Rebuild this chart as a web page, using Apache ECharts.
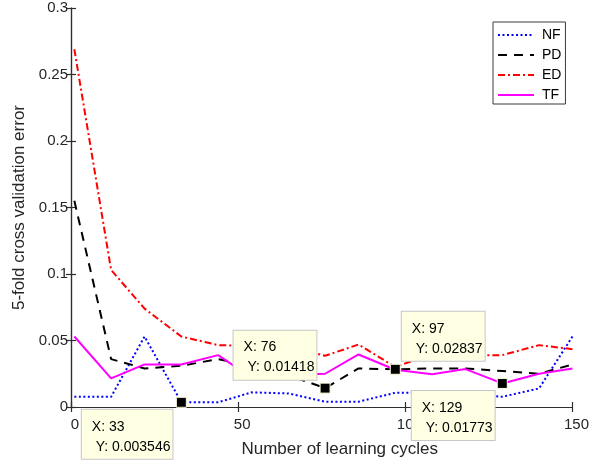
<!DOCTYPE html>
<html>
<head>
<meta charset="utf-8">
<script src="https://cdn.jsdelivr.net/npm/echarts@6/dist/echarts.min.js"></script>
<style>
  html, body { margin: 0; padding: 0; background: #fff; }
  #chart { width: 592px; height: 465px; }
</style>
</head>
<body>
<div id="chart"></div>
<script>
// Learning cycles at which the cross validation error was evaluated
const cycles = [1, 12, 22, 33, 44, 54, 65, 76, 86, 97, 108, 118, 129, 140, 150];

// 5-fold cross validation error per method
const errNF = [0.0077, 0.0077, 0.053, 0.003546, 0.0035, 0.011, 0.0102, 0.0040, 0.0040, 0.0107, 0.011, 0.010, 0.0077, 0.014, 0.053];
const errPD = [0.155, 0.036, 0.029, 0.031, 0.036, 0.031, 0.024, 0.01418, 0.029, 0.02837, 0.029, 0.029, 0.027, 0.025, 0.032];
const errED = [0.269, 0.103, 0.074, 0.053, 0.0465, 0.046, 0.046, 0.0385, 0.047, 0.030, 0.040, 0.039, 0.039, 0.0465, 0.0435];
const errTF = [0.053, 0.0215, 0.032, 0.032, 0.039, 0.022, 0.024, 0.025, 0.0395, 0.028, 0.0247, 0.0285, 0.01773, 0.025, 0.029];

const seriesNames = ['NF', 'PD', 'ED', 'TF'];

// Annotated points: which series and which sample index
const tipSeries = ['NF', 'PD', 'PD', 'TF'];
const tipIndex = [3, 7, 9, 12];

// Axis ticks
const xTicks = [0, 50, 100, 150];
const yTicks = [0, 0.05, 0.1, 0.15, 0.2, 0.25, 0.3];

const FONT = 'Liberation Sans, Arial, Helvetica, sans-serif';
const values = { NF: errNF, PD: errPD, ED: errED, TF: errTF };
const styles = {
  NF: { color: '#0000ff', type: [2, 2.5], width: 2 },
  PD: { color: '#000000', type: [9, 7], width: 2 },
  ED: { color: '#ff0000', type: [7, 3, 2, 3], width: 2 },
  TF: { color: '#ff00ff', type: 'solid', width: 2 }
};

// Where each annotation box sits relative to its marker
const tipBoxOffset = [[-94, 13], [-86, -52], [12, -52], [-85, 13]];

const lineSeries = seriesNames.map(name => ({
  name: name,
  type: 'line',
  symbol: 'none',
  data: cycles.map((c, i) => [c, values[name][i]]),
  lineStyle: { color: styles[name].color, type: styles[name].type, width: styles[name].width },
  itemStyle: { color: styles[name].color },
  z: 2
}));

const tipData = tipSeries.map((s, k) => {
  const i = tipIndex[k];
  return {
    value: [cycles[i], values[s][i]],
    label: { position: tipBoxOffset[k] }
  };
});

const tipSeriesOpt = {
  name: 'tips',
  type: 'scatter',
  symbol: 'rect',
  symbolSize: 10,
  itemStyle: { color: '#000', borderColor: '#ffffe1', borderWidth: 1, opacity: 1 },
  data: tipData,
  zlevel: 1,
  z: 5,
  silent: true,
  label: {
    show: true,
    formatter: p => 'X: ' + p.value[0] + '\n Y: ' + Number(p.value[1].toPrecision(4)),
    fontFamily: FONT,
    fontSize: 14,
    lineHeight: 20,
    color: '#000',
    backgroundColor: '#ffffe4',
    borderColor: '#c6c6c6',
    borderWidth: 1,
    padding: [7, 2, 2, 10],
    align: 'left',
    verticalAlign: 'top'
  }
};

const axisLineStyle = { color: '#2e2e2e', width: 1.2 };

const option = {
  animation: false,
  backgroundColor: '#ffffff',
  grid: { left: 71, right: 16, top: 8, bottom: 58, containLabel: false },
  legend: {
    data: seriesNames,
    orient: 'vertical',
    left: 493,
    top: 22,
    itemWidth: 36,
    itemHeight: 14,
    itemGap: 6,
    padding: [6, 4, 2, 4],
    borderColor: '#3a3a3a',
    borderWidth: 1,
    backgroundColor: '#ffffff',
    itemStyle: { opacity: 0 },
    textStyle: { fontFamily: FONT, fontSize: 14, color: '#000', padding: [0, 0, 0, 3] }
  },
  xAxis: [
    {
      type: 'value', min: xTicks[0], max: xTicks[xTicks.length - 1], interval: 50,
      position: 'bottom',
      name: 'Number of learning cycles',
      nameLocation: 'middle',
      nameGap: 34,
      nameTextStyle: { fontFamily: FONT, fontSize: 17, color: '#262626', padding: [0, 0, 0, 36] },
      axisLine: { lineStyle: axisLineStyle },
      axisTick: { inside: true, length: 5, lineStyle: axisLineStyle },
      axisLabel: { fontFamily: FONT, fontSize: 15, color: '#262626', margin: 10, padding: [0, 0, 0, 8] },
      splitLine: { show: false }
    },
    {
      type: 'value', min: xTicks[0], max: xTicks[xTicks.length - 1], interval: 50,
      position: 'top',
      axisLine: { lineStyle: axisLineStyle },
      axisTick: { inside: true, length: 5, lineStyle: axisLineStyle },
      axisLabel: { show: false },
      splitLine: { show: false }
    }
  ],
  yAxis: [
    {
      type: 'value', min: yTicks[0], max: yTicks[yTicks.length - 1], interval: 0.05,
      position: 'left',
      name: '5-fold cross validation error',
      nameLocation: 'middle',
      nameGap: 42,
      nameTextStyle: { fontFamily: FONT, fontSize: 17, color: '#262626' },
      axisLine: { lineStyle: axisLineStyle },
      axisTick: { inside: true, length: 5, lineStyle: axisLineStyle },
      axisLabel: { fontFamily: FONT, fontSize: 15, color: '#262626', margin: 3,
        formatter: v => String(Number(v.toFixed(2))) },
      splitLine: { show: false }
    },
    {
      type: 'value', min: yTicks[0], max: yTicks[yTicks.length - 1], interval: 0.05,
      position: 'right',
      axisLine: { lineStyle: axisLineStyle },
      axisTick: { inside: true, length: 5, lineStyle: axisLineStyle },
      axisLabel: { show: false },
      splitLine: { show: false }
    }
  ],
  series: lineSeries.concat([tipSeriesOpt])
};

const chart = echarts.init(document.getElementById('chart'), null, { renderer: 'canvas' });
chart.setOption(option);
</script>
</body>
</html>
